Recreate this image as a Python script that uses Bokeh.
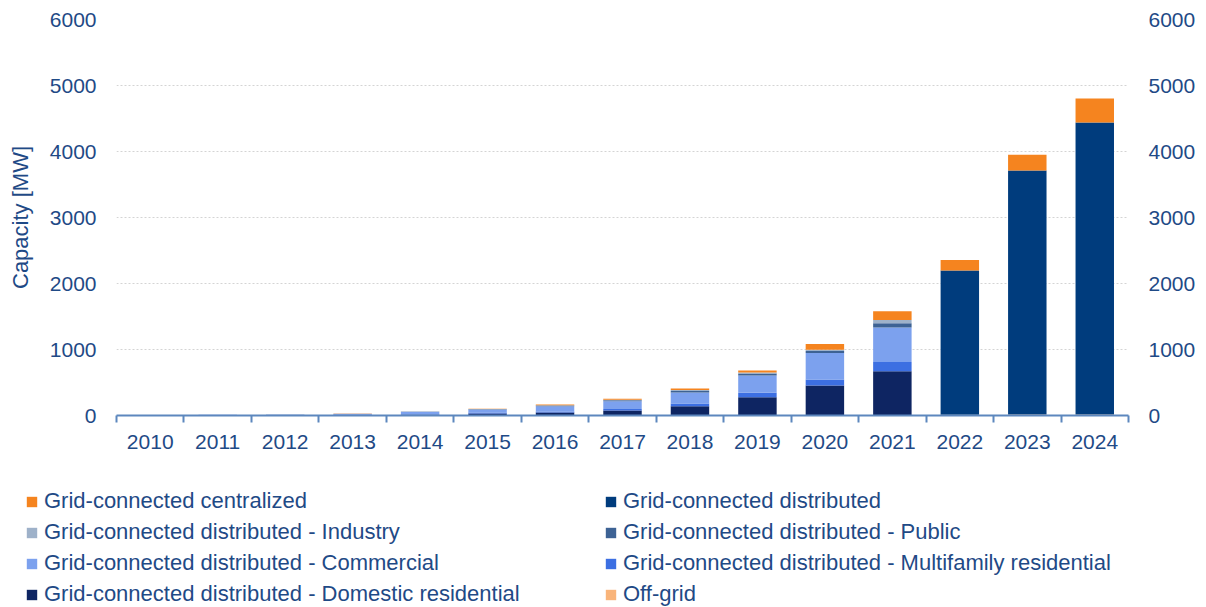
from bokeh.plotting import figure
from bokeh.layouts import column
from bokeh.models import (ColumnDataSource, Range1d, LinearAxis, FixedTicker,
                          Legend, LegendItem)
from bokeh.embed import file_html
from bokeh.resources import INLINE

# ---------------- data (MW) ----------------
years = ["2010", "2011", "2012", "2013", "2014", "2015", "2016", "2017",
         "2018", "2019", "2020", "2021", "2022", "2023", "2024"]
off_grid = [1, 3, 3, 2, 2, 2, 2, 2, 2, 2, 2, 2, 10, 15, 15]
domestic = [0, 3, 4, 8, 8, 30, 45, 72, 137, 274, 452, 670, 0, 0, 0]
multifamily = [0, 1, 1, 3, 8, 12, 15, 25, 41, 67, 91, 137, 0, 0, 0]
commercial = [0, 3, 4, 12, 35, 45, 80, 116, 167, 263, 401, 523, 0, 0, 0]
public = [0, 0, 1, 2, 5, 6, 8, 15, 26, 31, 31, 66, 0, 0, 0]
industry = [0, 0, 1, 1, 2, 3, 5, 7, 15, 15, 20, 50, 0, 0, 0]
distributed = [0, 0, 0, 0, 0, 0, 0, 0, 0, 0, 0, 0, 2187, 3697, 4424]
centralized = [0, 2, 3, 2, 2, 6, 10, 15, 20, 30, 86, 132, 160, 240, 365]

y_ticks = [0, 1000, 2000, 3000, 4000, 5000, 6000]

# stack order bottom -> top
series = [
    ("off_grid", off_grid, "Off-grid", "#F9B47A"),
    ("domestic", domestic, "Grid-connected distributed - Domestic residential", "#0E2562"),
    ("multifamily", multifamily, "Grid-connected distributed - Multifamily residential", "#3C6FE2"),
    ("commercial", commercial, "Grid-connected distributed - Commercial", "#7CA1EE"),
    ("public", public, "Grid-connected distributed - Public", "#3D6294"),
    ("industry", industry, "Grid-connected distributed - Industry", "#9EB1C9"),
    ("distributed", distributed, "Grid-connected distributed", "#003C7D"),
    ("centralized", centralized, "Grid-connected centralized", "#F5841F"),
]
# legend reading order (row-major, two columns)
legend_order = ["centralized", "distributed", "industry", "public",
                "commercial", "multifamily", "domestic", "off_grid"]

TEXT = "#1F4A86"
AXIS = "#5D87BE"
FONT = "Liberation Sans"

xpos = [i + 0.5 for i in range(len(years))]
data = {"x": xpos}
for key, vals, _, _ in series:
    data[key] = vals
source = ColumnDataSource(data)

W = 1206
p = figure(width=W, height=459, output_backend="svg", toolbar_location=None,
           x_range=Range1d(0, len(years)), y_range=Range1d(0, 6000),
           min_border_left=116, min_border_right=78, min_border_top=19,
           min_border_bottom=44)
p.outline_line_color = None
p.frame_align = False

p.vbar_stack([s[0] for s in series], x="x", width=0.57,
             color=[s[3] for s in series], line_color=None, source=source)

# grid
p.xgrid.grid_line_color = None
p.ygrid.ticker = FixedTicker(ticks=y_ticks)
p.ygrid.grid_line_color = "#D4D4D4"
p.ygrid.grid_line_dash = "2 2"
p.ygrid.grid_line_width = 1

# x axis: labels at category centres, ticks between categories
xa = p.xaxis[0]
xa.ticker = FixedTicker(ticks=xpos, minor_ticks=list(range(len(years) + 1)))
xa.major_label_overrides = {x: y for x, y in zip(xpos, years)}
xa.major_tick_line_color = None
xa.major_tick_out = 0
xa.major_tick_in = 0
xa.minor_tick_line_color = AXIS
xa.minor_tick_line_width = 2
xa.minor_tick_out = 7
xa.minor_tick_in = 0
xa.axis_line_color = AXIS
xa.axis_line_width = 2
xa.major_label_standoff = 12
xa.major_label_text_font = FONT
xa.major_label_text_font_size = "21px"
xa.major_label_text_color = TEXT

# left y axis
ya = p.yaxis[0]
ya.ticker = FixedTicker(ticks=y_ticks)
ya.axis_line_color = None
ya.major_tick_line_color = None
ya.minor_tick_line_color = None
ya.major_tick_out = 0
ya.major_label_standoff = 20
ya.major_label_text_font = FONT
ya.major_label_text_font_size = "21px"
ya.major_label_text_color = TEXT
ya.axis_label = "Capacity [MW]"
ya.axis_label_text_font = FONT
ya.axis_label_text_font_size = "22px"
ya.axis_label_text_font_style = "normal"
ya.axis_label_text_color = TEXT
ya.axis_label_standoff = 14

# right y axis
ra = LinearAxis(ticker=FixedTicker(ticks=y_ticks))
ra.axis_line_color = None
ra.major_tick_line_color = None
ra.minor_tick_line_color = None
ra.major_tick_out = 0
ra.major_label_standoff = 20
ra.major_label_text_font = FONT
ra.major_label_text_font_size = "21px"
ra.major_label_text_color = TEXT
p.add_layout(ra, "right")

# ---------------- legend panel below the chart ----------------
lp = figure(width=W, height=148, output_backend="svg", toolbar_location=None,
            x_range=Range1d(0, 1), y_range=Range1d(0, 1),
            x_axis_type=None, y_axis_type=None, min_border=0)
lp.outline_line_color = None
lp.grid.grid_line_color = None
lp.frame_align = False

info = {s[0]: (s[2], s[3]) for s in series}
items = []
for key in legend_order:
    label, color = info[key]
    # swatch-only renderer, its bar lies outside the visible range
    r = lp.vbar(x=[-5], top=[-5], bottom=[-6], width=0.5, color=color,
                line_color=None)
    items.append(LegendItem(label=label, renderers=[r]))

legend = Legend(items=items, orientation="horizontal", ncols=2,
                location=(25, 0))
legend.border_line_color = None
legend.background_fill_alpha = 0
legend.glyph_width = 13
legend.glyph_height = 13
legend.label_standoff = 6
legend.label_width = 555
legend.label_height = 26
legend.spacing = 5
legend.padding = 2
legend.margin = 0
legend.label_text_font = FONT
legend.label_text_font_size = "22px"
legend.label_text_color = TEXT
lp.add_layout(legend, "center")

layout = column(p, lp, spacing=0)
open("out.html", "w").write(file_html(layout, INLINE))
